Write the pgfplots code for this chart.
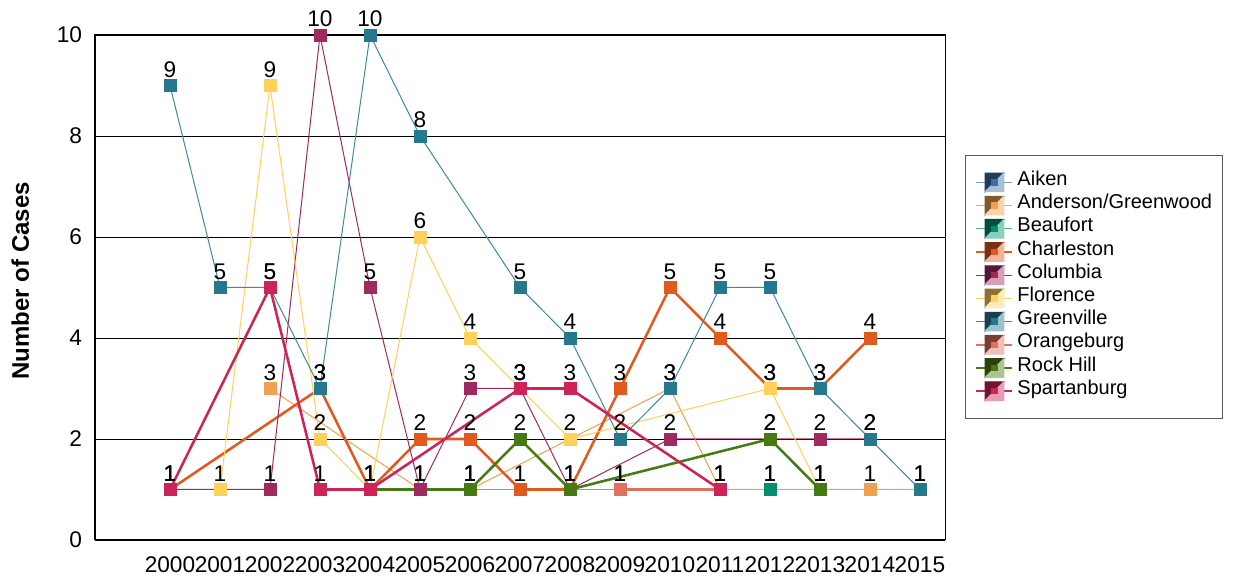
\documentclass[border=0pt]{standalone}
\usepackage{fontspec}
\setmainfont{Liberation Sans}
\usepackage{graphicx}
\usepackage{pgfplots}
\usepackage{pgfplotstable}
\pgfplotsset{compat=1.18}

\definecolor{cAiken}{HTML}{3A6EA5}
\definecolor{lAiken}{HTML}{7E9CC0}
\definecolor{cAnder}{HTML}{F0A050}
\definecolor{cBeau}{HTML}{00906E}
\definecolor{cCharl}{HTML}{E05A1E}
\definecolor{cColum}{HTML}{A02A60}
\definecolor{cFlor}{HTML}{FFD05A}
\definecolor{cGreen}{HTML}{26788C}
\definecolor{lGreen}{HTML}{3C8AA2}
\definecolor{cOrang}{HTML}{E07060}
\definecolor{cRock}{HTML}{477A12}
\definecolor{cSpart}{HTML}{CC2456}

% cases per year, missing years left out
\pgfplotstableread{
x y
2006 1
2009 1
}\tAiken
\pgfplotstableread{
x y
2002 3
2005 1
2006 1
2010 3
2011 1
2012 1
2013 1
2014 1
2015 1
}\tAnder
\pgfplotstableread{
x y
2012 1
}\tBeau
\pgfplotstableread{
x y
2000 1
2003 3
2004 1
2005 2
2006 2
2007 1
2008 1
2009 3
2010 5
2011 4
2012 3
2013 3
2014 4
}\tCharl
\pgfplotstableread{
x y
2000 1
2002 1
2003 10
2004 5
2005 1
2006 3
2007 3
2008 1
2010 2
2012 2
2013 2
2014 2
}\tColum
\pgfplotstableread{
x y
2001 1
2002 9
2003 2
2004 1
2005 6
2006 4
2007 3
2008 2
2012 3
2013 1
}\tFlor
\pgfplotstableread{
x y
2000 9
2001 5
2002 5
2003 3
2004 10
2005 8
2007 5
2008 4
2009 2
2010 3
2011 5
2012 5
2013 3
2014 2
2015 1
}\tGreen
\pgfplotstableread{
x y
2009 1
2011 1
}\tOrang
\pgfplotstableread{
x y
2004 1
2006 1
2007 2
2008 1
2012 2
2013 1
}\tRock
\pgfplotstableread{
x y
2000 1
2002 5
2003 1
2004 1
2007 3
2008 3
2011 1
}\tSpart

\newcommand{\legsq}[3]{\addlegendimage{legend image code/.code={
  \draw[#2, line width=#3] (0pt,0pt) -- (27pt,0pt);
  \fill[#1!55!black] (6.5pt,-7pt) -- (6.5pt,7pt) -- (20.5pt,7pt) -- cycle;
  \fill[#1!45!white] (6.5pt,-7pt) -- (20.5pt,-7pt) -- (20.5pt,7pt) -- cycle;
  \fill[#1] (11.5pt,-2pt) rectangle (15.5pt,2pt);
}}}

\begin{document}
\begin{tikzpicture}
\begin{axis}[
  at={(0,0)}, anchor=south west,
  scale only axis,
  width=637.5pt, height=378.75pt,
  xmin=1998.5, xmax=2015.5,
  ymin=0, ymax=10,
  clip=false,
  xtick={2000,...,2015},
  xticklabels={2000,2001,2002,2003,2004,2005,2006,2007,2008,2009,2010,2011,2012,2013,2014,2015},
  ytick={0,2,...,10},
  major tick length=0pt,
  /pgf/number format/assume math mode=true,
  tick label style={font=\fontsize{17}{19}\selectfont},
  xticklabel style={anchor=base, yshift=-24.5pt, inner sep=0pt},
  yticklabel style={anchor=east, inner sep=0pt, xshift=-9.5pt},
  ymajorgrids,
  grid style={black, line width=0.7pt},
  axis line style={black, line width=0.75pt},
  ylabel={Number of Cases},
  ylabel style={at={(axis description cs:-0.088,0.513)}, anchor=center,
    font=\bfseries\fontsize{18}{20}\selectfont},
  every node near coord/.append style={anchor=base, yshift=6pt, inner sep=0pt,
    font=\fontsize{17}{19}\selectfont, text=black},
  thin line/.style={line width=0.75pt},
  thick line/.style={line width=1.9pt},
  sq/.style={only marks, mark=square*, mark size=4.6pt,
    mark options={solid, line width=0.3pt}, nodes near coords, forget plot},
  legend style={at={(1.0235,0.7624)}, anchor=north west,
    draw=black!65, line width=0.75pt,
    inner xsep=7.5pt, inner ysep=11.5pt, row sep=0pt,
    font=\fontsize{15}{17}\selectfont,
    nodes={inner sep=0pt, text height=11pt, text depth=6.4pt},
    /tikz/every odd column/.append style={column sep=3pt}},
  legend cell align=left,
]
% lines first, all series
\addplot[lAiken, thin line, forget plot] table {\tAiken};
\addplot[cAnder, thin line, forget plot] table {\tAnder};
\addplot[cBeau, thin line, forget plot] table {\tBeau};
\addplot[cCharl, thick line, forget plot] table {\tCharl};
\addplot[cColum, thin line, forget plot] table {\tColum};
\addplot[cFlor, thin line, forget plot] table {\tFlor};
\addplot[lGreen, thin line, forget plot] table {\tGreen};
\addplot[cOrang, thick line, forget plot] table {\tOrang};
\addplot[cRock, thick line, forget plot] table {\tRock};
\addplot[cSpart, thick line, forget plot] table {\tSpart};
% markers and value labels on top
\addplot[cAiken, sq] table {\tAiken};
\addplot[cAnder, sq] table {\tAnder};
\addplot[cBeau, sq] table {\tBeau};
\addplot[cCharl, sq] table {\tCharl};
\addplot[cColum, sq] table {\tColum};
\addplot[cFlor, sq] table {\tFlor};
\addplot[cGreen, sq] table {\tGreen};
\addplot[cOrang, sq] table {\tOrang};
\addplot[cRock, sq] table {\tRock};
\addplot[cSpart, sq] table {\tSpart};
\draw[black, line width=1.9pt] (rel axis cs:0,0) -- (rel axis cs:1,0);
\draw[black, line width=1.1pt] (rel axis cs:0,0) -- (rel axis cs:0,1);
\legsq{cAiken}{lAiken}{0.75pt}\addlegendentry{Aiken}
\legsq{cAnder}{cAnder}{0.75pt}\addlegendentry{Anderson/Greenwood}
\legsq{cBeau}{cBeau!70}{0.75pt}\addlegendentry{Beaufort}
\legsq{cCharl}{cCharl}{1.5pt}\addlegendentry{Charleston}
\legsq{cColum}{cColum}{0.75pt}\addlegendentry{Columbia}
\legsq{cFlor}{cFlor}{0.75pt}\addlegendentry{Florence}
\legsq{cGreen}{lGreen}{0.75pt}\addlegendentry{Greenville}
\legsq{cOrang}{cOrang}{1.5pt}\addlegendentry{Orangeburg}
\legsq{cRock}{cRock}{1.5pt}\addlegendentry{Rock Hill}
\legsq{cSpart}{cSpart}{1.5pt}\addlegendentry{Spartanburg}
\end{axis}
\pgfresetboundingbox
\useasboundingbox (-71.25pt,-30pt) rectangle (858.75pt,405pt);
\end{tikzpicture}
\end{document}
